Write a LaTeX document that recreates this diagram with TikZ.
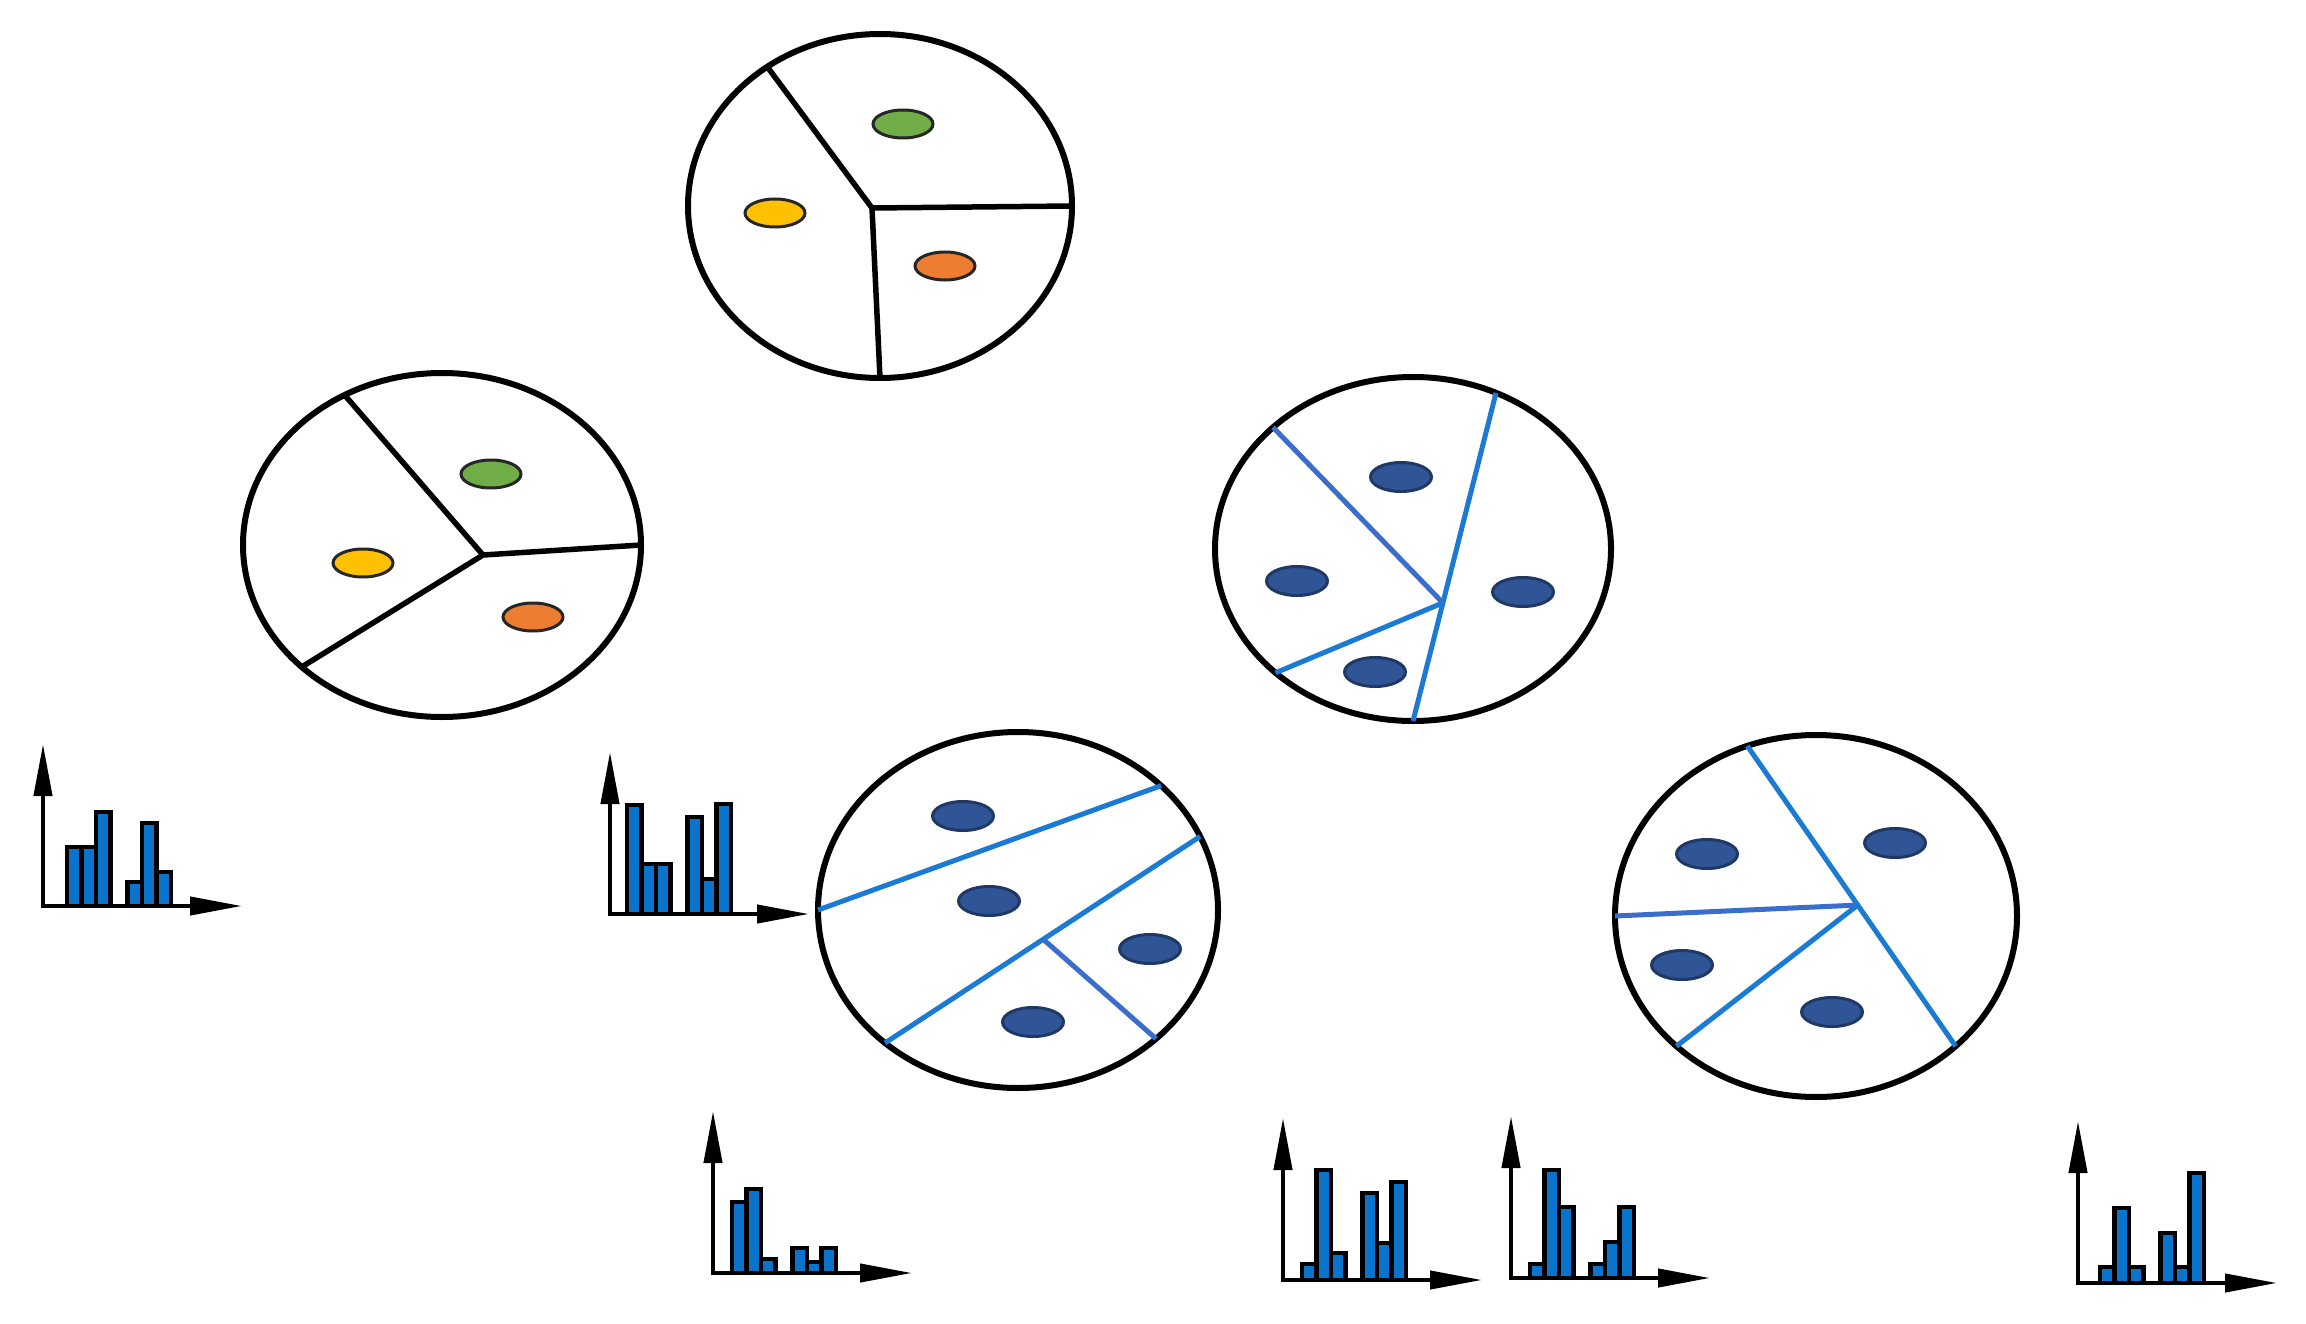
\documentclass[tikz,border=0pt]{standalone}
\usetikzlibrary{shapes.geometric,arrows.meta,calc}
\definecolor{dotgreen}{HTML}{70AD47}
\definecolor{dotyellow}{HTML}{FFC000}
\definecolor{dotorange}{HTML}{ED7D31}
\definecolor{dotblue}{HTML}{2F5597}
\definecolor{dotblueedge}{HTML}{203864}
\definecolor{barblue}{HTML}{0A74CC}
\definecolor{lineblue}{HTML}{1A7AD4}
\definecolor{lineindigo}{HTML}{3A6DCC}
\tikzset{
  region/.style={ellipse, draw=black, line width=6pt, inner sep=0pt, outer sep=0pt, fill=white},
  seed/.style={ellipse, draw=black!85, line width=3pt, minimum width=60pt, minimum height=28pt, inner sep=0pt},
  bseed/.style={ellipse, draw=dotblueedge, fill=dotblue, line width=3pt, minimum width=61pt, minimum height=29pt, inner sep=0pt},
  blackcut/.style={draw=black, line width=5.5pt},
  bluecut/.style={draw=lineblue, line width=5pt},
  indigocut/.style={draw=lineindigo, line width=5pt},
  histbar/.style={draw=black, fill=barblue, line width=4.2pt},
  histaxis/.style={draw=black, line width=4.2pt, -{Triangle[length=52pt,width=18pt]}},
}
% #1 origin name, #2 offset of first bar, #3-#8 heights
\newcommand\myhisto[8]{%
  \begin{scope}[shift={(#1)}]
    \draw[histbar] (#2,0) rectangle ++(14.5,-#3);
    \draw[histbar] (#2+14.5,0) rectangle ++(14.5,-#4);
    \draw[histbar] (#2+29,0) rectangle ++(14.5,-#5);
    \draw[histbar] (#2+60.5,0) rectangle ++(14.5,-#6);
    \draw[histbar] (#2+75,0) rectangle ++(14.5,-#7);
    \draw[histbar] (#2+89.5,0) rectangle ++(14.5,-#8);
    \draw[histaxis] (0,2.1) -- (0,-162);
    \draw[histaxis] (-2.1,0) -- (199,0);
  \end{scope}}
\begin{document}
\begin{tikzpicture}[x=1pt,y=-1pt]
\useasboundingbox (0,0) rectangle (2306,1324);

% ---------- circle 1 (top) ----------
\node[region, minimum width=384pt, minimum height=344pt] (c1) at (880,206) {};
\coordinate (j1) at (872,208);
\draw[blackcut] (c1.129.7) -- (j1) -- (c1.-0.9);
\draw[blackcut] (j1) -- (c1.-90);
\node[seed, fill=dotgreen] (c1g) at (903,124) {};
\node[seed, fill=dotyellow] (c1y) at (775,213) {};
\node[seed, fill=dotorange] (c1o) at (945,266) {};

% ---------- circle 2 (left) ----------
\node[region, minimum width=398pt, minimum height=344pt] (c2) at (442,545) {};
\coordinate (j2) at (483,555);
\draw[blackcut] (c2.123.4) -- (j2) -- (c2.0.6);
\draw[blackcut] (j2) -- (c2.-139.5);
\node[seed, fill=dotgreen] (c2g) at (491,474) {};
\node[seed, fill=dotyellow] (c2y) at (363,563) {};
\node[seed, fill=dotorange] (c2o) at (533,617) {};

% ---------- circle 3 (right middle) ----------
\node[region, minimum width=396pt, minimum height=344pt] (c3) at (1413,549) {};
\coordinate (j3) at ($(c3.62.4)!0.64!(c3.-90)$);
\draw[bluecut] (c3.62.4) -- (c3.-90);
\draw[indigocut] (c3.139.2) -- (j3);
\draw[bluecut] (c3.-138.8) -- (j3);
\node[bseed] (c3a) at (1401,477) {};
\node[bseed] (c3b) at (1297,581) {};
\node[bseed] (c3c) at (1523,592) {};
\node[bseed] (c3d) at (1375,672) {};

% ---------- circle 4 (centre bottom) ----------
\node[region, minimum width=400pt, minimum height=356pt] (c4) at (1018,910) {};
\draw[bluecut] (c4.180.9) -- (c4.41.9);
\draw[bluecut] (c4.-135.9) -- (c4.22.4);
\coordinate (j4) at ($(c4.-135.9)!0.502!(c4.22.4)$);
\draw[indigocut] (j4) -- (c4.-43);
\node[bseed] (c4a) at (963,816) {};
\node[bseed] (c4b) at (989,901) {};
\node[bseed] (c4c) at (1150,949) {};
\node[bseed] (c4d) at (1033,1022) {};

% ---------- circle 5 (right bottom) ----------
\node[region, minimum width=402pt, minimum height=362pt] (c5) at (1816,916) {};
\draw[bluecut] (c5.112.5) -- (c5.-43.9);
\coordinate (j5) at ($(c5.112.5)!0.53!(c5.-43.9)$);
\draw[indigocut] (c5.180.3) -- (j5);
\draw[bluecut] (c5.-137.6) -- (j5);
\node[bseed] (c5a) at (1707,854) {};
\node[bseed] (c5b) at (1895,843) {};
\node[bseed] (c5c) at (1682,965) {};
\node[bseed] (c5d) at (1832,1012) {};

% ---------- histograms ----------
\coordinate (h1) at (43,906);
\coordinate (h2) at (610,914);
\coordinate (h3) at (713,1273);
\coordinate (h4) at (1283,1280);
\coordinate (h5) at (1511,1278);
\coordinate (h6) at (2078,1283);
\myhisto{h1}{24}{59}{59}{94}{24}{83}{34}
\myhisto{h2}{17}{109}{50}{50}{97}{35}{110}
\myhisto{h3}{19}{71}{84}{14}{25}{11}{25}
\myhisto{h4}{19}{16}{110}{27}{87}{37}{98}
\myhisto{h5}{19}{14}{108}{71}{14}{36}{71}
\myhisto{h6}{22}{16}{75}{16}{50}{16}{110}
\end{tikzpicture}
\end{document}
